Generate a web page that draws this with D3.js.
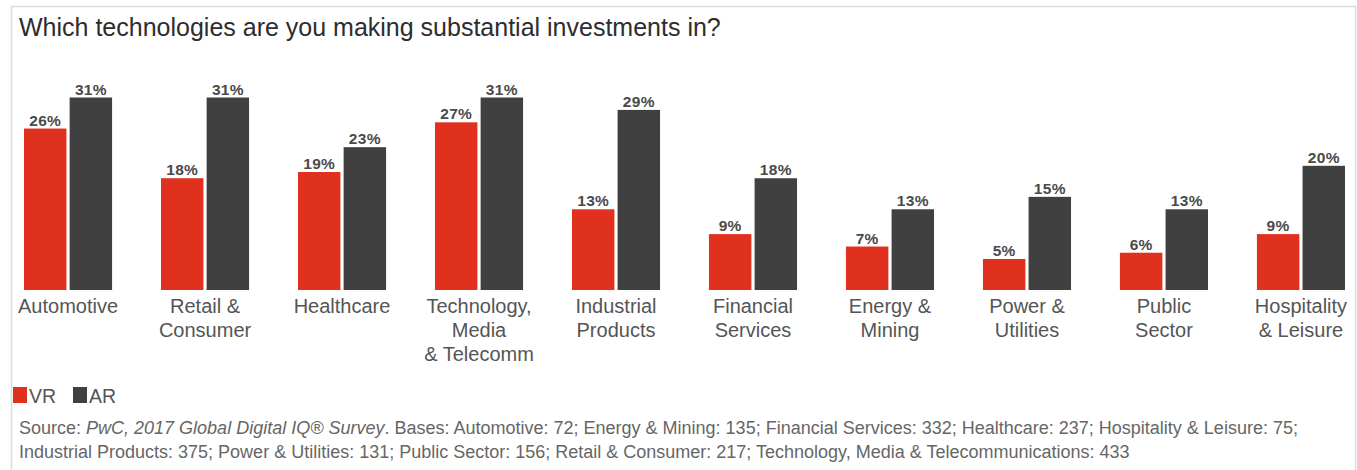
<!DOCTYPE html>
<html>
<head>
<meta charset="utf-8">
<script src="https://cdn.jsdelivr.net/npm/d3@7"></script>
<style>
  body { margin: 0; background: #fff; font-family: "Liberation Sans", Arial, Helvetica, sans-serif; }
</style>
</head>
<body>
<div id="chart"></div>
<script>
const categories = ['Automotive', 'Retail &\nConsumer', 'Healthcare', 'Technology,\nMedia\n& Telecomm',
                    'Industrial\nProducts', 'Financial\nServices', 'Energy &\nMining', 'Power &\nUtilities',
                    'Public\nSector', 'Hospitality\n& Leisure'];
const seriesNames = ['VR', 'AR'];
const vrValues = [26, 18, 19, 27, 13, 9, 7, 5, 6, 9];
const arValues = [31, 31, 23, 31, 29, 18, 13, 15, 13, 20];
const colors = {VR: '#e0301e', AR: '#404041'};

const W = 1357, H = 470;
const baseY = 290;

const svg = d3.select('#chart')
              .append('svg')
              .attr('width', W)
              .attr('height', H);

// light frame
svg.append('rect')
   .attr('x', 11.5).attr('y', 6.5)
   .attr('width', 1344).attr('height', 480)
   .attr('fill', 'none')
   .attr('stroke', '#dcdcdc')
   .attr('stroke-width', 1.5);

svg.append('text')
   .attr('x', 19)
   .attr('y', 36)
   .attr('font-size', '25px')
   .attr('fill', '#2d2d2d')
   .text('Which technologies are you making substantial investments in?');

const data = categories.map((c, i) => ({cat: c, VR: vrValues[i], AR: arValues[i]}));

const x0 = d3.scaleBand()
             .domain(categories)
             .range([24, 1345])
             .paddingInner(0.357)
             .paddingOuter(0);

const x1 = d3.scaleBand()
             .domain(seriesNames)
             .range([0, x0.bandwidth()])
             .paddingInner(0.07);

const y = d3.scaleLinear()
            .domain([0, 31])
            .range([baseY, 97.5]);

const groups = svg.selectAll('g.group')
                  .data(data)
                  .enter()
                  .append('g')
                  .attr('class', 'group')
                  .attr('transform', d => `translate(${x0(d.cat)},0)`);

groups.selectAll('rect')
      .data(d => seriesNames.map(k => ({key: k, value: d[k]})))
      .enter()
      .append('rect')
      .attr('x', d => x1(d.key))
      .attr('y', d => y(d.value))
      .attr('width', x1.bandwidth())
      .attr('height', d => baseY - y(d.value))
      .attr('fill', d => colors[d.key]);

groups.selectAll('text.val')
      .data(d => seriesNames.map(k => ({key: k, value: d[k]})))
      .enter()
      .append('text')
      .attr('class', 'val')
      .attr('x', d => x1(d.key) + x1.bandwidth() / 2)
      .attr('y', d => y(d.value) - 3)
      .attr('text-anchor', 'middle')
      .attr('font-size', '15.5px')
      .attr('font-weight', 'bold')
      .attr('letter-spacing', '0.3px')
      .attr('fill', '#4a4a4a')
      .text(d => d.value + '%');

// category labels
const catLabels = groups.append('text')
      .attr('text-anchor', 'middle')
      .attr('font-size', '20px')
      .attr('fill', '#555');

catLabels.selectAll('tspan')
      .data(d => d.cat.split('\n'))
      .enter()
      .append('tspan')
      .attr('x', x0.bandwidth() / 2)
      .attr('y', (d, i) => 313 + i * 24)
      .text(d => d);

// legend
const legend = svg.selectAll('g.legend')
                  .data(seriesNames)
                  .enter()
                  .append('g')
                  .attr('class', 'legend')
                  .attr('transform', (d, i) => `translate(${13 + i * 60},387)`);

legend.append('rect')
      .attr('width', 14)
      .attr('height', 16)
      .attr('fill', d => colors[d]);

legend.append('text')
      .attr('x', 16)
      .attr('y', 15.5)
      .attr('font-size', '19.5px')
      .attr('fill', '#555')
      .text(d => d);

// source note
const src = svg.append('text')
               .attr('x', 19)
               .attr('y', 434)
               .attr('font-size', '18px')
               .attr('fill', '#666');
src.append('tspan').text('Source: ');
src.append('tspan').attr('font-style', 'italic').text('PwC, 2017 Global Digital IQ® Survey');
src.append('tspan').text('. Bases: Automotive: 72; Energy & Mining: 135; Financial Services: 332; Healthcare: 237; Hospitality & Leisure: 75;');

svg.append('text')
   .attr('x', 19)
   .attr('y', 458)
   .attr('font-size', '18px')
   .attr('fill', '#666')
   .text('Industrial Products: 375; Power & Utilities: 131; Public Sector: 156; Retail & Consumer: 217; Technology, Media & Telecommunications: 433');
</script>
</body>
</html>
